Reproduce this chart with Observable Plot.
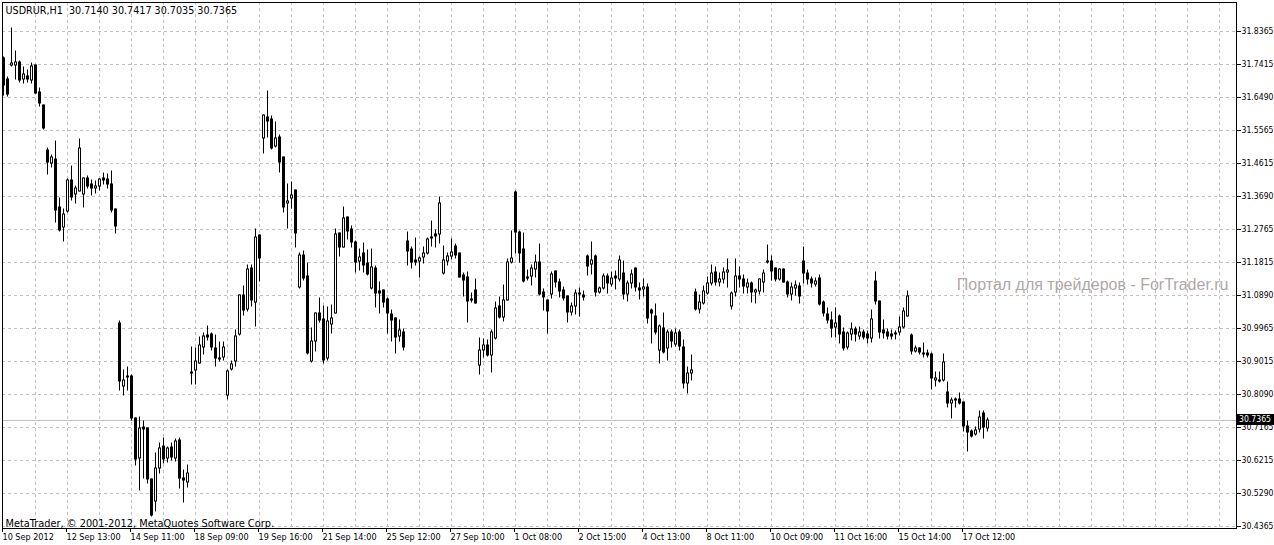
<!DOCTYPE html>
<html><head><meta charset="utf-8">
<script src="https://cdn.jsdelivr.net/npm/d3@7"></script>
<script src="https://cdn.jsdelivr.net/npm/@observablehq/plot@0.6"></script>
<style>
html,body{margin:0;padding:0;background:#fff;overflow:hidden}
svg{display:block}
</style></head><body><div id="chart"></div>
<script>
const symbol = "USDRUR,H1";
const open = [31.758,31.699,31.739,31.740,31.748,31.701,31.708,31.697,31.739,31.663,31.626,31.499,31.463,31.474,31.337,31.281,31.327,31.414,31.375,31.384,31.375,31.420,31.403,31.391,31.398,31.420,31.417,31.403,31.332,31.010,30.832,30.860,30.860,30.740,30.627,30.716,30.712,30.568,30.507,30.599,30.662,30.628,30.660,30.629,30.679,30.571,30.561,30.871,30.877,30.897,30.943,30.976,30.979,30.938,30.912,30.913,30.806,30.879,30.902,30.978,31.089,31.048,31.164,31.068,31.259,31.532,31.593,31.587,31.511,31.535,31.478,31.348,31.364,31.385,31.112,31.202,31.143,30.902,30.959,31.037,31.020,30.910,31.008,31.039,31.263,31.226,31.309,31.276,31.240,31.186,31.207,31.179,31.108,31.164,31.100,31.103,31.078,31.035,31.023,30.974,30.985,31.242,31.219,31.188,31.186,31.196,31.207,31.254,31.261,31.261,31.150,31.186,31.200,31.228,31.207,31.146,31.139,31.078,31.103,30.891,30.933,30.948,30.918,30.968,31.059,31.028,31.075,31.183,31.381,31.268,31.219,31.140,31.144,31.163,31.182,31.097,31.075,31.091,31.157,31.125,31.103,31.086,31.040,31.059,31.092,31.089,31.200,31.177,31.200,31.098,31.108,31.144,31.119,31.143,31.133,31.150,31.092,31.122,31.164,31.110,31.106,31.111,31.047,31.030,30.934,30.995,30.938,30.983,30.950,30.983,30.943,30.841,30.867,31.097,31.049,31.066,31.094,31.124,31.153,31.127,31.133,31.153,31.059,31.097,31.143,31.133,31.112,31.124,31.097,31.101,31.127,31.185,31.186,31.164,31.133,31.162,31.127,31.091,31.108,31.114,31.186,31.152,31.133,31.119,31.138,31.070,31.035,31.018,30.999,31.030,30.983,30.941,30.979,30.992,30.974,30.985,30.979,30.968,31.129,31.072,30.990,30.985,30.979,30.981,30.983,30.998,31.030,30.976,30.931,30.938,30.926,30.926,30.921,30.849,30.849,30.849,30.814,30.783,30.795,30.795,30.786,30.719,30.704,30.695,30.710,30.754,30.7140];
const high = [31.762,31.706,31.843,31.779,31.752,31.735,31.725,31.746,31.740,31.674,31.627,31.504,31.485,31.524,31.362,31.331,31.416,31.455,31.397,31.530,31.421,31.425,31.414,31.412,31.418,31.434,31.431,31.440,31.333,31.015,30.877,30.886,30.863,30.741,30.745,30.733,30.713,30.569,30.643,30.669,30.684,30.660,30.671,30.681,30.684,30.594,30.608,30.941,30.938,30.971,30.981,31.001,30.982,30.976,30.957,30.957,30.877,30.901,30.990,31.090,31.114,31.174,31.174,31.276,31.260,31.599,31.666,31.595,31.577,31.541,31.479,31.402,31.408,31.386,31.207,31.213,31.179,30.996,31.038,31.080,31.058,31.056,31.061,31.276,31.264,31.337,31.310,31.285,31.241,31.219,31.235,31.216,31.219,31.171,31.127,31.104,31.080,31.047,31.024,31.018,30.992,31.268,31.226,31.251,31.197,31.226,31.251,31.298,31.273,31.365,31.228,31.207,31.247,31.232,31.208,31.152,31.153,31.094,31.133,30.966,30.964,30.962,30.990,31.068,31.084,31.117,31.191,31.270,31.382,31.269,31.263,31.160,31.174,31.202,31.232,31.106,31.076,31.153,31.158,31.134,31.112,31.087,31.065,31.103,31.108,31.100,31.201,31.238,31.201,31.112,31.147,31.148,31.153,31.157,31.199,31.186,31.129,31.161,31.165,31.122,31.133,31.120,31.049,31.064,31.004,31.037,30.990,30.990,30.992,30.990,30.962,30.886,30.919,31.106,31.089,31.114,31.139,31.174,31.167,31.150,31.164,31.190,31.098,31.190,31.169,31.146,31.133,31.127,31.105,31.134,31.160,31.230,31.200,31.165,31.163,31.163,31.128,31.122,31.129,31.124,31.226,31.160,31.139,31.136,31.146,31.073,31.051,31.042,31.051,31.032,30.995,30.985,31.009,30.998,30.998,30.990,30.988,31.047,31.153,31.073,31.018,30.993,30.990,30.987,31.027,31.053,31.100,30.978,30.946,30.939,30.952,30.933,30.924,30.872,30.870,30.921,30.842,30.798,30.798,30.811,30.786,30.732,30.707,30.716,30.762,30.761,30.7417];
const low = [31.655,31.652,31.737,31.701,31.692,31.688,31.692,31.688,31.659,31.624,31.559,31.430,31.452,31.296,31.270,31.242,31.324,31.358,31.350,31.383,31.337,31.393,31.372,31.378,31.386,31.403,31.391,31.324,31.263,30.820,30.806,30.820,30.735,30.608,30.537,30.571,30.556,30.464,30.479,30.585,30.615,30.618,30.622,30.620,30.542,30.504,30.547,30.836,30.836,30.896,30.921,30.962,30.933,30.888,30.903,30.905,30.794,30.877,30.888,30.976,31.032,31.043,31.058,31.002,31.129,31.491,31.537,31.501,31.508,31.436,31.323,31.279,31.336,31.226,31.110,31.131,30.921,30.899,30.931,31.013,30.896,30.905,30.981,31.038,31.200,31.225,31.247,31.226,31.155,31.160,31.155,31.146,31.106,31.056,31.037,31.056,30.981,30.959,30.924,30.959,30.933,31.174,31.166,31.174,31.141,31.180,31.204,31.228,31.226,31.235,31.147,31.174,31.191,31.193,31.140,31.086,31.013,31.070,31.065,30.865,30.915,30.917,30.871,30.965,31.023,31.015,31.074,31.179,31.207,31.182,31.125,31.131,31.117,31.141,31.090,31.047,30.981,31.081,31.112,31.084,31.075,31.013,31.033,31.034,31.030,31.075,31.145,31.148,31.087,31.096,31.106,31.094,31.115,31.106,31.129,31.077,31.073,31.108,31.101,31.077,31.086,31.009,30.952,30.980,30.897,30.926,30.905,30.943,30.945,30.933,30.825,30.813,30.849,31.047,31.039,31.063,31.093,31.117,31.117,31.115,31.122,31.112,31.049,31.086,31.112,31.095,31.095,31.070,31.066,31.092,31.098,31.180,31.131,31.129,31.131,31.126,31.084,31.075,31.089,31.066,31.124,31.119,31.111,31.114,31.061,31.030,31.009,30.969,30.971,30.952,30.933,30.935,30.962,30.960,30.964,30.964,30.953,30.957,31.063,30.968,30.967,30.964,30.964,30.964,30.976,30.995,31.029,30.921,30.927,30.921,30.914,30.914,30.823,30.832,30.842,30.846,30.771,30.742,30.773,30.780,30.704,30.647,30.688,30.692,30.702,30.685,30.7035];
const close = [31.683,31.657,31.746,31.748,31.697,31.714,31.701,31.737,31.661,31.631,31.562,31.466,31.478,31.329,31.273,31.318,31.414,31.367,31.391,31.505,31.420,31.398,31.391,31.397,31.417,31.414,31.403,31.329,31.285,30.846,30.850,30.856,30.740,30.624,30.712,30.711,30.568,30.467,30.599,30.655,30.624,30.656,30.632,30.676,30.572,30.566,30.585,30.867,30.902,30.947,30.973,30.971,30.941,30.910,30.907,30.943,30.874,30.894,30.973,31.089,31.047,31.162,31.075,31.252,31.193,31.598,31.582,31.506,31.532,31.464,31.339,31.355,31.372,31.263,31.202,31.138,30.926,30.959,31.037,31.018,30.905,31.015,31.025,31.261,31.226,31.306,31.271,31.238,31.183,31.196,31.174,31.148,31.167,31.094,31.096,31.070,31.037,31.018,30.969,30.990,30.943,31.214,31.182,31.183,31.194,31.207,31.247,31.249,31.257,31.348,31.188,31.199,31.210,31.202,31.141,31.131,31.072,31.075,31.066,30.933,30.948,30.918,30.984,31.053,31.028,31.075,31.183,31.193,31.266,31.207,31.129,31.136,31.164,31.182,31.091,31.084,31.044,31.147,31.125,31.100,31.081,31.040,31.058,31.094,31.096,31.084,31.172,31.188,31.098,31.108,31.144,31.122,31.136,31.136,31.188,31.092,31.122,31.147,31.111,31.103,31.111,31.023,31.037,30.983,31.001,30.929,30.983,30.960,30.981,30.945,30.841,30.867,30.877,31.049,31.068,31.100,31.122,31.150,31.127,31.133,31.153,31.160,31.096,31.143,31.133,31.114,31.124,31.098,31.103,31.133,31.152,31.181,31.158,31.134,31.162,31.127,31.092,31.111,31.117,31.086,31.152,31.133,31.122,31.129,31.064,31.039,31.018,30.997,31.009,30.979,30.938,30.981,30.992,30.979,30.983,30.971,30.966,31.021,31.072,30.985,30.982,30.974,30.974,30.978,30.998,31.044,31.086,30.931,30.938,30.927,30.921,30.919,30.853,30.855,30.846,30.899,30.783,30.792,30.791,30.783,30.719,30.702,30.691,30.707,30.745,30.716,30.7365];

const yTickValues = [31.8365,31.7415,31.6490,31.5565,31.4615,31.3690,31.2765,31.1815,31.0890,30.9965,30.9015,30.8090,30.7165,30.6215,30.5290,30.4365];
const yTickLabels = ["31.8365","31.7415","31.6490","31.5565","31.4615","31.3690","31.2765","31.1815","31.0890","30.9965","30.9015","30.8090","30.7165","30.6215","30.5290","30.4365"];
const xTickIndex = [0,16,32,48,64,80,96,112,128,144,160,176,192,208,224,240];
const xTickLabels = ["10 Sep 2012","12 Sep 13:00","14 Sep 11:00","18 Sep 09:00","19 Sep 16:00","21 Sep 14:00","25 Sep 12:00","27 Sep 10:00","1 Oct 08:00","2 Oct 15:00","4 Oct 13:00","8 Oct 11:00","10 Oct 09:00","11 Oct 16:00","15 Oct 14:00","17 Oct 12:00"];
const gridBarStep = 8;
const visibleBars = 308;
const currentPrice = 30.7365;
const watermark = "Портал для трейдеров - ForTrader.ru";
const copyright = "MetaTrader, © 2001-2012, MetaQuotes Software Corp.";

const bars = open.map((o, i) => ({
  i, open: o, high: high[i], low: low[i], close: close[i],
  top: Math.max(o, close[i]), bottom: Math.min(o, close[i]), up: close[i] > o
}));
const last = bars[bars.length - 1];
const fmt = d => d.toFixed(4);
const title = symbol + "\u00a0\u00a0" + [last.open, last.high, last.low, last.close].map(fmt).join(" ");
const yLabelMap = new Map(yTickValues.map((v, k) => [v, yTickLabels[k]]));
const xLabelMap = new Map(xTickIndex.map((v, k) => [v, xTickLabels[k]]));
const FONT = "'DejaVu Sans Condensed','DejaVu Sans',sans-serif";
const GRID = "#c0c0c0";

const chart = Plot.plot({
  width: 1274, height: 545,
  marginTop: 2, marginLeft: 2, marginRight: 38, marginBottom: 17,
  style: {background: "#fff", fontFamily: FONT, fontStretch: "condensed", color: "#000"},
  x: {domain: [-0.25, visibleBars + 0.25], round: true, axis: null, label: null},
  y: {domain: [30.4300, 31.9177], round: true, axis: null, label: null},
  marks: [
    Plot.ruleX(d3.range(gridBarStep, visibleBars + 1, gridBarStep), {stroke: GRID, strokeDasharray: "3,3"}),
    Plot.ruleY(yTickValues, {stroke: GRID, strokeDasharray: "3,3"}),
    Plot.ruleY([currentPrice], {stroke: GRID}),
    Plot.text([watermark], {frameAnchor: "right", dx: -8, dy: 19, textAnchor: "end", fill: "#b2a6a6", fontSize: 16, fontFamily: "'Liberation Sans',Arial,sans-serif", fontStretch: "normal"}),
    Plot.ruleX(bars, {x: "i", y1: "high", y2: "low", stroke: "#000", insetTop: -0.5, insetBottom: -0.5}),
    Plot.ruleX(bars, {x: "i", y1: "top", y2: "bottom", stroke: "#000", strokeWidth: 3, insetTop: -0.5, insetBottom: -0.5}),
    Plot.ruleX(bars.filter(d => d.up), {x: "i", y1: "top", y2: "bottom", stroke: "#fff", strokeWidth: 1, insetTop: 0.5, insetBottom: 0.5}),
    Plot.frame({stroke: "#000"}),
    Plot.axisY(yTickValues, {anchor: "right", label: null, tickSize: 4, tickPadding: 1, tickFormat: d => yLabelMap.get(d), fontSize: 8.6, textAnchor: "start"}),
    Plot.axisX(xTickIndex, {anchor: "bottom", label: null, tickSize: 4, tickPadding: 1, tickFormat: d => xLabelMap.get(d), fontSize: 9, textAnchor: "start", dx: -1}),
    Plot.text([title], {frameAnchor: "top-left", dx: 3, dy: 4, textAnchor: "start", lineAnchor: "top", fontSize: 10.7}),
    Plot.text([copyright], {frameAnchor: "bottom-left", dx: 3, dy: -2, textAnchor: "start", lineAnchor: "bottom", fontSize: 10.9})
  ]
});
document.getElementById("chart").append(chart);

// current price badge on the price axis, positioned with Plot's own y scale
const ys = chart.scale("y").apply(currentPrice);
const svg = d3.select(chart);
const g = svg.append("g");
g.append("rect").attr("x", 1237).attr("y", ys - 6).attr("width", 37).attr("height", 11).attr("fill", "#000");
g.append("text").attr("x", 1239).attr("y", ys - 0.5).attr("dy", "0.32em").attr("fill", "#fff")
  .attr("text-anchor", "start").attr("font-size", 8.6).attr("font-family", FONT)
  .style("font-stretch", "condensed").text(fmt(currentPrice));
</script></body></html>
